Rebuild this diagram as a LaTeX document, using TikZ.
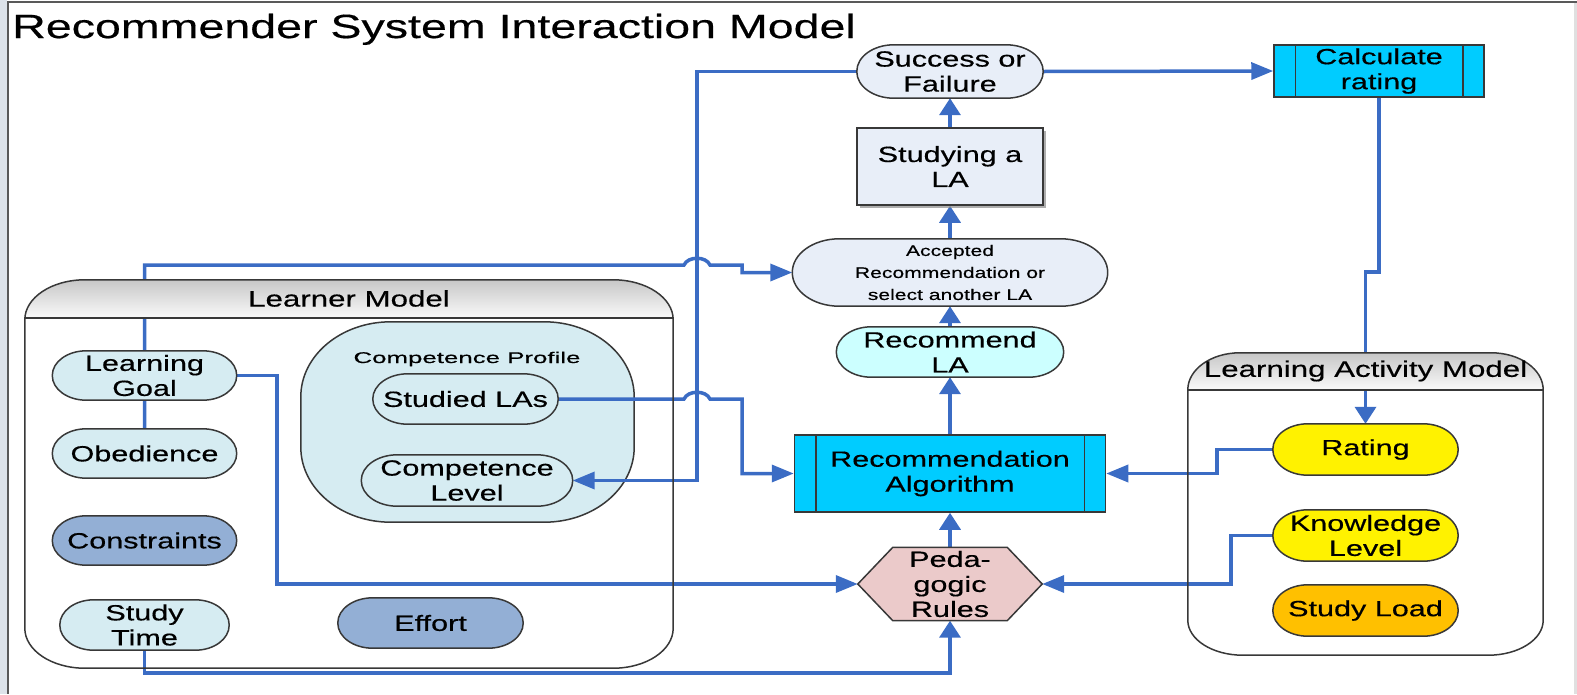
\documentclass[tikz,border=0pt]{standalone}
\usepackage{fontspec}
\setmainfont{Liberation Sans}[FakeStretch=1.39, FakeBold=0.4]
\usetikzlibrary{calc,arrows.meta,shadows}

\definecolor{lineblue}{HTML}{3B6CC4}
\definecolor{edgegrey}{HTML}{383838}
\definecolor{paleblue}{HTML}{E8EEF8}
\definecolor{brightcyan}{HTML}{00CCFF}
\definecolor{palecyan}{HTML}{CCFFFF}
\definecolor{iceblue}{HTML}{D6ECF2}
\definecolor{steelblue}{HTML}{93AFD5}
\definecolor{rulepink}{HTML}{EBCACA}
\definecolor{amber}{HTML}{FFC000}
\definecolor{stripgrey}{HTML}{DDE3EA}

\pgfdeclarelayer{background}
\pgfdeclarelayer{edges}
\pgfdeclarelayer{frames}
\pgfsetlayers{background,edges,frames,main}

% outline of a node's box with elliptical corners:
% #1 node, #2/#3 top corner radii (x/y), #4/#5 bottom corner radii (x/y)
\newcommand\ovalpath[5]{%
  ($(#1.north west)+(#2,0)$) -- ($(#1.north east)+(-#2,0)$)
  .. controls ($(#1.north east)+({-0.4477*#2},0)$) and ($(#1.north east)+(0,{0.4477*#3})$) .. ($(#1.north east)+(0,#3)$)
  -- ($(#1.south east)+(0,-#5)$)
  .. controls ($(#1.south east)+(0,{-0.4477*#5})$) and ($(#1.south east)+({-0.4477*#4},0)$) .. ($(#1.south east)+(-#4,0)$)
  -- ($(#1.south west)+(#4,0)$)
  .. controls ($(#1.south west)+({0.4477*#4},0)$) and ($(#1.south west)+(0,{-0.4477*#5})$) .. ($(#1.south west)+(0,-#5)$)
  -- ($(#1.north west)+(0,#3)$)
  .. controls ($(#1.north west)+(0,{0.4477*#3})$) and ($(#1.north west)+({0.4477*#2},0)$) .. ($(#1.north west)+(#2,0)$)
  -- cycle}
% flat-topped hexagon over a node's box, #2 = horizontal cut
\newcommand\hexpath[2]{%
  ($(#1.north west)+(#2,0)$) -- ($(#1.north east)+(-#2,0)$) -- (#1.east)
  -- ($(#1.south east)+(-#2,0)$) -- ($(#1.south west)+(#2,0)$) -- (#1.west) -- cycle}
\newcommand\capsule[4]{\filldraw[outline, fill=#4] \ovalpath{#1}{#2}{#3}{#2}{#3};}

\newcommand\bodyfont{\fontsize{22}{25}\selectfont}
\newcommand\smallfont{\fontsize{15.2}{22}\selectfont}
\newcommand\hdrfont{\fontsize{22.5}{26}\selectfont}
\newcommand\titlefont{\fontsize{33.5}{40}\selectfont}

\begin{document}
\begin{tikzpicture}[x=1pt,y=-1pt,
  txt/.style={inner sep=0pt, align=center, font=\bodyfont, text=black},
  outline/.style={draw=edgegrey, line width=1.5pt},
  conn/.style={draw=lineblue, line width=3.5pt},
  tiph/.style={-{Triangle[length=22pt,width=17pt]}},
  tipv/.style={-{Triangle[length=17pt,width=21pt]}},
  procbox/.style={txt, draw=edgegrey, line width=1.5pt, fill=brightcyan}]

\useasboundingbox (0,0) rectangle (1577,694);

% page frame
\fill[stripgrey] (0,0) rectangle (6.5,694);
\draw[black!65, line width=2pt] (1577,2) -- (8,2) -- (8,694);
\draw[black!12, line width=2.5pt] (1575.5,3) -- (1575.5,694);

% title
\node[anchor=base west, inner sep=0pt, font=\titlefont] (title) at (12,38)
  {Recommender System Interaction Model};

% containers (boxes only carry names and anchors)
\node[inner sep=0pt, minimum width=648, minimum height=388] (lm) at (349,474) {};
\node[inner sep=0pt, minimum width=355, minimum height=302] (lam) at (1365.5,504) {};
\node[inner sep=0pt, minimum width=333, minimum height=200] (cp) at (467.5,422) {};
\coordinate (lmhead) at (0,318);
\coordinate (lamhead) at (0,390);

\node[txt, font=\hdrfont] (lmtitle) at (349,298.5) {Learner Model};
\node[txt, font=\hdrfont] (lamtitle) at (1365.5,371) {Learning Activity Model};
\node[txt, font=\fontsize{15.5}{18}\selectfont] (cptitle) at (467,359)
  {\scalebox{1.2}[1]{Competence Profile}};

% main flow
\node[txt, minimum width=186, minimum height=53] (success) at (950,71.5) {Success or\\Failure};
\node[procbox, minimum width=210, minimum height=52] (calc) at (1379,71) {Calculate\\rating};
\node[txt, draw=edgegrey, line width=1.5pt, fill=paleblue, minimum width=186, minimum height=77,
  drop shadow={shadow xshift=2.5pt, shadow yshift=-2.5pt, fill=black!45, opacity=0.7}] (studybox) at (950,166.5) {Studying a\\LA};
\node[txt, font=\smallfont, minimum width=315, minimum height=67] (accepted) at (950,272.5)
  {Accepted\\Recommendation or\\select another LA};
\node[txt, minimum width=227, minimum height=50] (recla) at (950,352) {Recommend\\LA};
\node[procbox, minimum width=311, minimum height=77] (recalg) at (950,473.5) {Recommendation\\Algorithm};
\node[txt, minimum width=184, minimum height=73] (ped) at (950,584) {Peda-\\gogic\\Rules};

% learner model entries
\node[txt, minimum width=184, minimum height=49] (lgoal) at (144.5,375.5) {Learning\\Goal};
\node[txt, minimum width=184, minimum height=49] (obed) at (144.5,453.5) {Obedience};
\node[txt, minimum width=184, minimum height=49] (constr) at (144.5,540.5) {Constraints};
\node[txt, minimum width=169, minimum height=50] (stime) at (144.5,625) {Study\\Time};
\node[txt, minimum width=185, minimum height=50] (effort) at (430.5,623) {Effort};
\node[txt, minimum width=185, minimum height=50] (studied) at (465.5,399) {Studied LAs};
\node[txt, minimum width=211, minimum height=51] (complevel) at (467,480.5) {Competence\\Level};

% learning activity model entries
\node[txt, minimum width=185, minimum height=51] (rating) at (1365.5,449.5) {Rating};
\node[txt, minimum width=185, minimum height=51] (knowledge) at (1365.5,535.5) {Knowledge\\Level};
\node[txt, minimum width=185, minimum height=51] (studyload) at (1365.5,610.5) {Study Load};

% inner bars of the process boxes
\draw[edgegrey, line width=1.5pt] ($(calc.north west)+(22,0)$) -- ($(calc.south west)+(22,0)$);
\draw[edgegrey, line width=1.5pt] ($(calc.north east)+(-22,0)$) -- ($(calc.south east)+(-22,0)$);
\draw[edgegrey, line width=1.5pt] ($(recalg.north west)+(22,0)$) -- ($(recalg.south west)+(22,0)$);
\draw[edgegrey, line width=1.5pt] ($(recalg.north east)+(-22,0)$) -- ($(recalg.south east)+(-22,0)$);

% container bodies
\begin{pgfonlayer}{background}
  \fill[white] \ovalpath{lm}{60}{40}{60}{40};
  \fill[white] \ovalpath{lam}{52}{37}{55}{35};
  \filldraw[outline, fill=iceblue] \ovalpath{cp}{90}{75}{90}{75};
\end{pgfonlayer}

% container headers, outlines and node shapes
\begin{pgfonlayer}{frames}
  \begin{scope}
    \clip \ovalpath{lm}{60}{40}{60}{40};
    \shade[top color=black!22, bottom color=black!2] (lm.north west) rectangle (lm.east |- lmhead);
  \end{scope}
  \draw[outline] (lm.west |- lmhead) -- (lm.east |- lmhead);
  \draw[outline] \ovalpath{lm}{60}{40}{60}{40};
  \begin{scope}
    \clip \ovalpath{lam}{52}{37}{55}{35};
    \shade[top color=black!22, bottom color=black!2] (lam.north west) rectangle (lam.east |- lamhead);
  \end{scope}
  \draw[outline] (lam.west |- lamhead) -- (lam.east |- lamhead);
  \draw[outline] \ovalpath{lam}{52}{37}{55}{35};

  \capsule{success}{37}{26.5}{paleblue}
  \capsule{accepted}{47}{33.5}{paleblue}
  \capsule{recla}{35}{25}{palecyan}
  \filldraw[outline, fill=rulepink] \hexpath{ped}{35};
  \capsule{lgoal}{34}{24.5}{iceblue}
  \capsule{obed}{34}{24.5}{iceblue}
  \capsule{constr}{34}{24.5}{steelblue}
  \capsule{stime}{34}{25}{iceblue}
  \capsule{effort}{35}{25}{steelblue}
  \capsule{studied}{35}{25}{iceblue}
  \capsule{complevel}{36}{25.5}{iceblue}
  \capsule{rating}{35}{25.5}{yellow}
  \capsule{knowledge}{35}{25.5}{yellow}
  \capsule{studyload}{35}{25.5}{amber}
\end{pgfonlayer}

% bend and jump positions of the connectors
\coordinate (vx) at (697,0);
\coordinate (bendb) at (742,0);
\coordinate (jy) at (0,265);
\coordinate (bendd) at (277,0);
\coordinate (by) at (0,673);
\coordinate (stepy) at (0,272);
\coordinate (bendr) at (1217,0);
\coordinate (bendk) at (1231,0);

\begin{pgfonlayer}{edges}
  % vertical chain through the middle
  \draw[conn, tipv] (ped.north) -- (recalg.south);
  \draw[conn, tipv] (recalg.north) -- (recla.south);
  \draw[conn, tipv] (recla.north) -- (accepted.south);
  \draw[conn, tipv] (accepted.north) -- (studybox.south);
  \draw[conn, tipv] (studybox.north) -- (success.south);
  \draw[conn, tiph] (success.east) -- (calc.west);
  % outcome fed back to the competence level
  \draw[conn, tiph] (success.west) -- (success.west -| vx) -- (vx |- complevel.east) -- (complevel.east);
  % studied activities into the algorithm
  \draw[conn, tiph] (studied.east) -- ($(studied.east -| vx)+(-13,0)$)
    .. controls +(4,-9) and +(-4,-9) .. ($(studied.east -| vx)+(13,0)$)
    -- (studied.east -| bendb) -- (bendb |- recalg.west) -- (recalg.west);
  % obedience to the acceptance step
  \draw[conn, tiph] (obed.north) -- (obed.north |- jy) -- ($(vx |- jy)+(-13,0)$)
    .. controls +(4,-9) and +(-4,-9) .. ($(vx |- jy)+(13,0)$)
    -- (jy -| bendb) -- (bendb |- accepted.west) -- (accepted.west);
  % learning goal and study time into the rules
  \draw[conn, tiph] (lgoal.east) -- (lgoal.east -| bendd) -- (bendd |- ped.west) -- (ped.west);
  \draw[conn, tipv] (stime.south) -- (stime.south |- by) -- (by -| ped.south) -- (ped.south);
  % rating loop
  \draw[conn, tipv] (calc.south) -- (calc.south |- stepy) -- (stepy -| rating.north) -- (rating.north);
  \draw[conn, tiph] (rating.west) -- (rating.west -| bendr) -- (bendr |- recalg.east) -- (recalg.east);
  \draw[conn, tiph] (knowledge.west) -- (knowledge.west -| bendk) -- (bendk |- ped.east) -- (ped.east);
\end{pgfonlayer}
\end{tikzpicture}
\end{document}
